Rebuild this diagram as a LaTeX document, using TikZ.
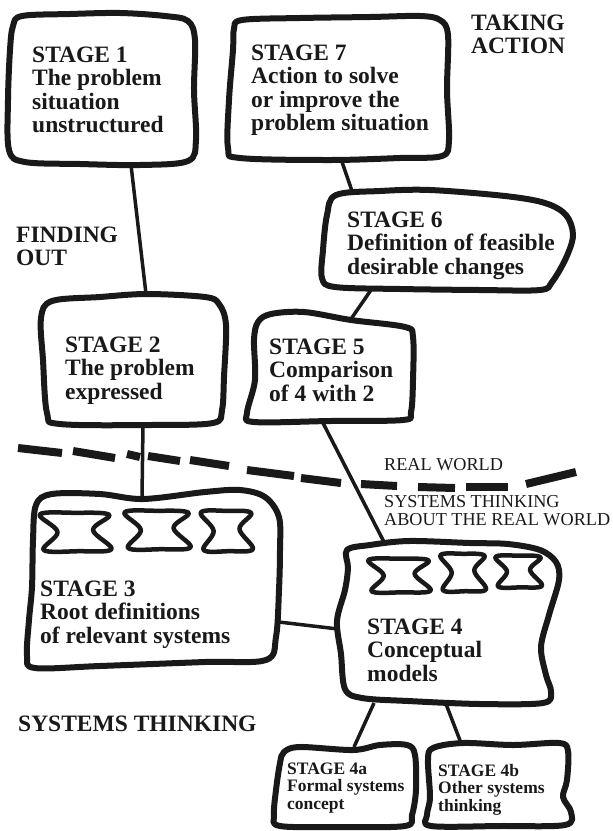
\documentclass[tikz,border=0pt]{standalone}
\usepackage{fontspec}
\setmainfont{Liberation Serif}
\definecolor{ink}{RGB}{25,25,25}
\newcommand\bigtxt{\fontsize{23.5}{23.5}\selectfont\bfseries}
\newcommand\smtxt{\fontsize{17.5}{17.8}\selectfont\bfseries}
\newcommand\rwtxt{\fontsize{18.2}{18}\selectfont}
\newcommand\lns[1]{\begin{tabular}[t]{@{}l@{}}#1\end{tabular}}
\newcommand\mycloud[4]{\draw[cloudln, shift={(#1,#2)}, xscale=#3, yscale=#4] plot[smooth cycle, tension=0.6] coordinates {(0.05,0.06) (0.5,0.02) (0.95,0.07) (0.74,0.45) (0.98,0.93) (0.55,0.98) (0.1,0.95) (0.28,0.5)};}
\tikzset{
  box/.style={draw=ink, line width=6pt, line join=round},
  cloudln/.style={draw=ink, line width=4.5pt, line join=round},
  conn/.style={draw=ink, line width=3.5pt},
  dashseg/.style={draw=ink, line width=8pt},
  txt/.style={anchor=base west, inner sep=0pt, text=ink, font=\bigtxt},
  stxt/.style={anchor=base west, inner sep=0pt, text=ink, font=\smtxt},
  rtxt/.style={anchor=base west, inner sep=0pt, text=ink, font=\rwtxt},
}
\begin{document}
\begin{tikzpicture}[x=1pt,y=-1pt]
\useasboundingbox (0,0) rectangle (613,831);

% ---------- box outlines ----------
% Stage 1
\draw[box] plot[smooth cycle, tension=0.55] coordinates {(22,16) (70,14) (120,13) (165,16) (188,21) (195,40) (194,90) (196,140) (188,161) (140,165) (80,164) (25,162) (9,150) (8,100) (10,50) (13,26)};
% Stage 7
\draw[box] plot[smooth cycle, tension=0.55] coordinates {(242,20) (300,18) (370,17) (420,16) (440,20) (448,35) (447,90) (449,140) (442,156) (400,158) (330,160) (240,158) (228,148) (229,100) (233,50) (234,29)};
% Stage 6
\draw[box] plot[smooth cycle, tension=0.55] coordinates {(336,195) (380,191) (430,190) (505,196) (545,203) (566,215) (573,235) (566,258) (552,282) (540,290) (480,290) (400,289) (335,287) (322,278) (323,250) (327,215)};
% Stage 2
\draw[box] plot[smooth cycle, tension=0.55] coordinates {(52,301) (100,297) (147,294) (205,297) (219,304) (226,325) (224,377) (222,410) (213,423) (150,425) (60,424) (47,413) (43,360) (41,318)};
% Stage 5
\draw[box] plot[smooth cycle, tension=0.55] coordinates {(258,322) (271,314) (304,312) (351,320) (405,327) (413,337) (413,380) (411,412) (403,420) (330,421) (254,422) (247,413) (255,380) (254,340)};
% Stage 3
\draw[box] plot[smooth cycle, tension=0.55] coordinates {(36,505) (52,494) (100,494) (143,499) (205,492) (240,490) (265,497) (279,517) (280,550) (279,590) (276,637) (266,660) (205,662) (100,666) (35,668) (27,656) (29,620) (32,587) (33,540)};
% Stage 4
\draw[box] plot[smooth cycle, tension=0.55] coordinates {(347,550) (370,545) (409,541) (470,543) (508,544) (540,550) (556,562) (559,580) (549,615) (541,647) (546,675) (551,692) (543,703) (480,704) (408,701) (362,698) (345,689) (341,654) (337,621) (345,590) (348,568)};
% Stage 4a
\draw[box] plot[smooth cycle, tension=0.55] coordinates {(284,752) (300,747) (353,750) (380,745) (407,745) (415,755) (416,790) (412,815) (405,826) (340,827) (280,826) (274,815) (276,790) (280,763)};
% Stage 4b
\draw[box] plot[smooth cycle, tension=0.55] coordinates {(433,748) (463,743) (513,745) (559,743) (568,751) (567,780) (563,797) (571,812) (565,825) (500,826) (431,826) (427,815) (430,797) (428,760)};

% ---------- clouds ----------
\mycloud{36}{512}{77}{40}
\mycloud{121}{510}{71}{40}
\mycloud{198}{510}{56}{42}
\mycloud{365}{558}{67}{35}
\mycloud{438}{553}{49}{39}
\mycloud{493}{555}{50}{33}

% ---------- texts ----------
\node[txt] (s1) at (32,62) {\lns{STAGE 1\\The problem\\situation\\unstructured}};
\node[txt] (s7) at (251,60) {\lns{STAGE 7\\Action to solve\\or improve the\\problem situation}};
\node[txt] (ta) at (471,30) {\lns{TAKING\\ACTION}};
\node[txt] (s6) at (347,227) {\lns{STAGE 6\\Definition of feasible\\desirable changes}};
\node[txt] (fo) at (16,242) {\lns{FINDING\\OUT}};
\node[txt] (s2) at (65,352) {\lns{STAGE 2\\The problem\\expressed}};
\node[txt] (s5) at (269,354) {\lns{STAGE 5\\Comparison\\of 4 with 2}};
\node[rtxt] (rw) at (384,470) {REAL WORLD};
\node[rtxt] (st) at (384,507) {\lns{SYSTEMS THINKING\\ABOUT THE REAL WORLD}};
\node[txt] (s3) at (40,596) {\lns{STAGE 3\\Root definitions\\of relevant systems}};
\node[txt] (s4) at (367,634) {\lns{STAGE 4\\Conceptual\\models}};
\node[txt] (stk) at (18,731) {SYSTEMS THINKING};
\node[stxt] (s4a) at (287,774) {\lns{STAGE 4a\\Formal systems\\concept}};
\node[stxt] (s4b) at (438,776) {\lns{STAGE 4b\\Other systems\\thinking}};

% ---------- connector ends ----------
\coordinate (s1b) at (131,165);
\coordinate (s2t) at (146,294);
\coordinate (s7b) at (341,159);
\coordinate (s6t) at (352,191);
\coordinate (s6b) at (371,290);
\coordinate (s5t) at (351,319);
\coordinate (s2b) at (143,425);
\coordinate (s3t) at (142,497);
\coordinate (s5b) at (322,421);
\coordinate (s4t) at (384,542);
\coordinate (s3r) at (279,622);
\coordinate (s4l) at (338,629);
\coordinate (s4ba) at (374,703);
\coordinate (s4at) at (354,747);
\coordinate (s4bb) at (446,704);
\coordinate (s4bt) at (461,743);

\draw[conn] (s1b) -- (s2t);
\draw[conn] (s7b) -- (s6t);
\draw[conn] (s6b) -- (s5t);
\draw[conn] (s2b) -- (s3t);
\draw[conn] (s5b) -- (s4t);
\draw[conn] (s3r) -- (s4l);
\draw[conn] (s4ba) -- (s4at);
\draw[conn] (s4bb) -- (s4bt);

% ---------- boundary dashes ----------
\draw[dashseg] (18,448) -- (62,453);
\draw[dashseg] (73,451) -- (115,458);
\draw[dashseg] (127,454) -- (140,457);
\draw[dashseg] (148,456) -- (180,461);
\draw[dashseg] (190,460) -- (229,466);
\draw[dashseg] (247,470) -- (294,476);
\draw[dashseg] (301,478) -- (341,483);
\draw[dashseg] (361,484) -- (397,486);
\draw[dashseg] (418,487) -- (455,488);
\draw[dashseg] (466,487) -- (508,487);
\draw[dashseg] (526,484) -- (576,472);
\end{tikzpicture}
\end{document}
